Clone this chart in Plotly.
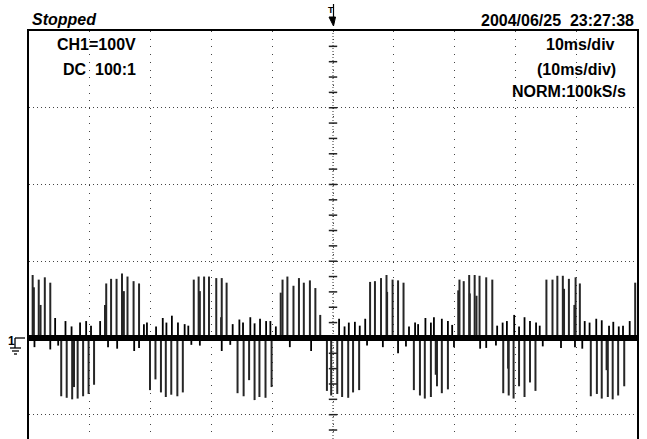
import plotly.graph_objects as go

# ---------------- data (time in ms, voltage in V) ----------------
# large positive switching spikes
pos_t = [-49.4, -49.2, -48.4, -48.1, -47.4, -46.5,
         -37.5, -37.3, -36.5, -35.6, -34.7, -34.4, -33.8, -32.8, -31.9,
         -22.9, -22.1, -21.9, -21.2, -20.4, -19.2, -18.4, -18.3, -17.5,
         -8.6, -8.3, -7.5, -6.5, -5.6, -4.8, -3.8, -2.9, -2.1,
         6.1, 6.9, 7.9, 8.8, 8.9, 9.8, 10.7, 11.6,
         20.6, 20.8, 21.5, 22.4, 22.5, 23.3, 23.6, 24.1, 25.2, 26.2,
         35.1, 36.1, 36.9, 37.8, 38.0, 38.8, 39.7, 39.9, 40.6,
         49.7]
pos_v = [82, 66, 76, 43, 79, 72,
         43, 71, 77, 77, 84, 61, 80, 74, 71,
         76, 80, 61, 80, 80, 78, 27, 78, 72,
         59, 76, 80, 68, 78, 72, 75, 65, 30,
         73, 74, 78, 82, 60, 76, 75, 72,
         62, 76, 74, 82, 58, 82, 55, 81, 79, 76,
         76, 76, 81, 81, 64, 77, 43, 79, 71,
         72]

# large negative switching spikes
neg_t = [-44.7, -43.8, -42.9, -42.6, -42.0, -41.1, -40.2, -39.3,
         -30.1, -29.2, -28.3, -27.5, -26.6, -25.6, -24.7,
         -15.7, -14.7, -13.8, -12.9, -12.1, -11.1, -10.1,
         -1.0, -0.3, 0.7, 1.5, 2.5, 3.3, 4.3,
         13.3, 14.3, 15.1, 16.1, 16.9, 17.1, 17.9, 18.9,
         28.0, 28.8, 28.9, 29.7, 30.6, 31.5, 32.4, 33.3,
         42.4, 43.4, 44.2, 45.0, 45.2, 46.0, 46.9, 47.9]
neg_v = [-76, -78, -80, -64, -79, -76, -73, -61,
         -68, -54, -71, -77, -74, -76, -71,
         -72, -76, -55, -81, -77, -78, -64,
         -69, -75, -73, -77, -78, -71, -68,
         -68, -75, -79, -77, -48, -63, -72, -67,
         -72, -40, -75, -79, -63, -77, -58, -69,
         -76, -73, -79, -42, -77, -80, -75, -63]

# small positive blips
sp_t = [-45.7, -44.0, -43.0, -41.6, -40.6, -39.8, -38.3,
        -31.1, -30.6, -29.1, -28.0, -27.4, -26.5, -25.5, -24.4, -23.8,
        -16.5, -15.4, -14.8, -13.6, -12.9, -12.0, -11.0, -10.3, -9.4,
        1.0, 1.9, 2.6, 3.6, 4.4, 5.3,
        12.5, 13.5, 14.0, 15.2, 16.1, 16.6, 17.9, 18.9, 19.6,
        27.0, 27.9, 28.6, 29.8, 30.6, 31.5, 32.4, 33.4, 34.0,
        41.4, 42.2, 43.3, 44.2, 45.4, 46.1, 47.0, 47.7, 48.8]
sp_v = [26, 22, 15, 20, 22, 16, 22,
        18, 20, 15, 26, 20, 29, 20, 18, 16,
        18, 24, 20, 27, 19, 25, 22, 22, 15,
        25, 15, 20, 21, 16, 25,
        15, 20, 18, 26, 20, 27, 25, 22, 17,
        16, 20, 22, 30, 15, 27, 22, 20, 16,
        22, 20, 25, 23, 16, 21, 15, 16, 22]

# small negative blips
sn_t = [-49.1, -46.5, -45.2, -37.0, -35.5, -32.7, -31.9, -23.3, -21.9, -18.3,
        -16.9, -7.1, -3.6, 5.6, 8.2, 10.7, 12.0, 19.9, 24.2, 25.2,
        26.8, 34.5, 37.5, 39.8, 41.0]
sn_v = [-12, -15, -10, -12, -14, -17, -13, -9, -10, -17,
        -9, -12, -17, -10, -12, -20, -11, -12, -14, -13,
        -10, -11, -13, -12, -14]

# screen / labels
x_range = [-50, 50]          # 10 ms/div, 10 divisions
y_range = [-131.7, 400]      # 100 V/div
x_grid = [-40, -30, -20, -10, 0, 10, 20, 30, 40]
y_grid = [-100, 0, 100, 200, 300]
center_ticks_v = [-120, -100, -80, -60, -40, -20, 0, 20, 40, 60, 80, 100, 120, 140,
                  160, 180, 200, 220, 240, 260, 280, 300, 320, 340, 360, 380]

# ---------------- layout geometry (pixels) ----------------
FW, FH = 647, 439
ML, MR, MT, MB = 29, 10, 31, 0
PW = FW - ML - MR
PH = FH - MT - MB


def px(x):
    return (x - ML) / PW


def py(y):
    return (FH - MB - y) / PH


def spikes(ts, vs):
    xs, ys = [], []
    for t, v in zip(ts, vs):
        xs += [t, t, None]
        ys += [0, v, None]
    return xs, ys


fig = go.Figure()

# centre vertical line tick marks
fig.add_trace(go.Scatter(
    x=[0] * len(center_ticks_v), y=center_ticks_v, mode="markers",
    marker=dict(symbol="line-ew", size=6, line=dict(color="#222", width=1.5)),
    hoverinfo="skip", showlegend=False))

bx, by = spikes(pos_t + neg_t, pos_v + neg_v)
fig.add_trace(go.Scatter(x=bx, y=by, mode="lines",
                         line=dict(color="#262626", width=2),
                         hoverinfo="skip", showlegend=False))
sx, sy = spikes(sp_t + sn_t, sp_v + sn_v)
fig.add_trace(go.Scatter(x=sx, y=sy, mode="lines",
                         line=dict(color="#000", width=1.8),
                         hoverinfo="skip", showlegend=False))
# baseline
fig.add_trace(go.Scatter(x=x_range, y=[0, 0], mode="lines",
                         line=dict(color="#000", width=6),
                         hoverinfo="skip", showlegend=False))

shapes = []
# dense centre vertical line
shapes.append(dict(type="line", xref="x", yref="y", x0=0, x1=0,
                   y0=y_range[0], y1=y_range[1],
                   line=dict(color="#333", width=1, dash="1px,2px"), layer="below"))

# trigger marker
shapes.append(dict(type="line", xref="paper", yref="paper",
                   x0=px(333.5), x1=px(333.5), y0=py(4), y1=py(18),
                   line=dict(color="#000", width=1.2)))
shapes.append(dict(type="path", xref="paper", yref="paper",
                   path=f"M {px(329)} {py(17)} L {px(335.5)} {py(17)} L {px(333.5)} {py(26)} Z",
                   fillcolor="#000", line=dict(color="#000", width=1)))

# ground marker
for (x0, y0, x1, y1) in [(15, 338, 25, 338), (15, 338, 15, 348),
                         (10, 348, 21, 348), (12, 351, 19, 351), (14, 354, 17, 354)]:
    shapes.append(dict(type="line", xref="paper", yref="paper",
                       x0=px(x0), y0=py(y0), x1=px(x1), y1=py(y1),
                       line=dict(color="#000", width=1.3)))

FONT = "Liberation Sans, Arial, sans-serif"
ann = []


def text(t, x, y, xa="center", size=16, **kw):
    ann.append(dict(text=t, x=px(x), y=py(y), xref="paper", yref="paper",
                    xanchor=xa, yanchor="middle", showarrow=False,
                    font=dict(family=FONT, size=size, color="#000", **kw)))


text("Stopped", 30, 19, xa="left", size=16, style="italic", weight="bold")
text("2004/06/25\u00a0\u00a023:27:38", 636, 20, xa="right", size=16, weight="bold")
text("CH1=100V", 138, 44, xa="right", size=16, weight="bold")
text("DC\u00a0\u00a0100:1", 138, 69, xa="right", size=16, weight="bold")
text("10ms/div", 580, 44, size=16, weight="bold")
text("(10ms/div)", 576, 69, size=16, weight="bold")
text("NORM:100kS/s", 569, 91, size=16, weight="bold")
text("T", 331, 10, size=9, weight="bold")
text("1", 11, 341, size=12, weight="bold")

fig.update_layout(
    width=FW, height=FH,
    margin=dict(l=ML, r=MR, t=MT, b=MB, pad=0),
    paper_bgcolor="white", plot_bgcolor="white",
    showlegend=False,
    shapes=shapes, annotations=ann,
    xaxis=dict(range=x_range, side="top", showline=True, linecolor="#000", linewidth=1.5,
               mirror=False, tickvals=x_grid, showticklabels=False, ticks="",
               showgrid=True, gridcolor="#444", gridwidth=1, griddash="1px,6.7px",
               zeroline=False, fixedrange=True),
    yaxis=dict(range=y_range, showline=True, linecolor="#000", linewidth=1.5,
               mirror=True, tickvals=y_grid, showticklabels=False, ticks="",
               showgrid=True, gridcolor="#444", gridwidth=1, griddash="1px,3px",
               zeroline=False, fixedrange=True),
)

fig.write_html("out.html")
